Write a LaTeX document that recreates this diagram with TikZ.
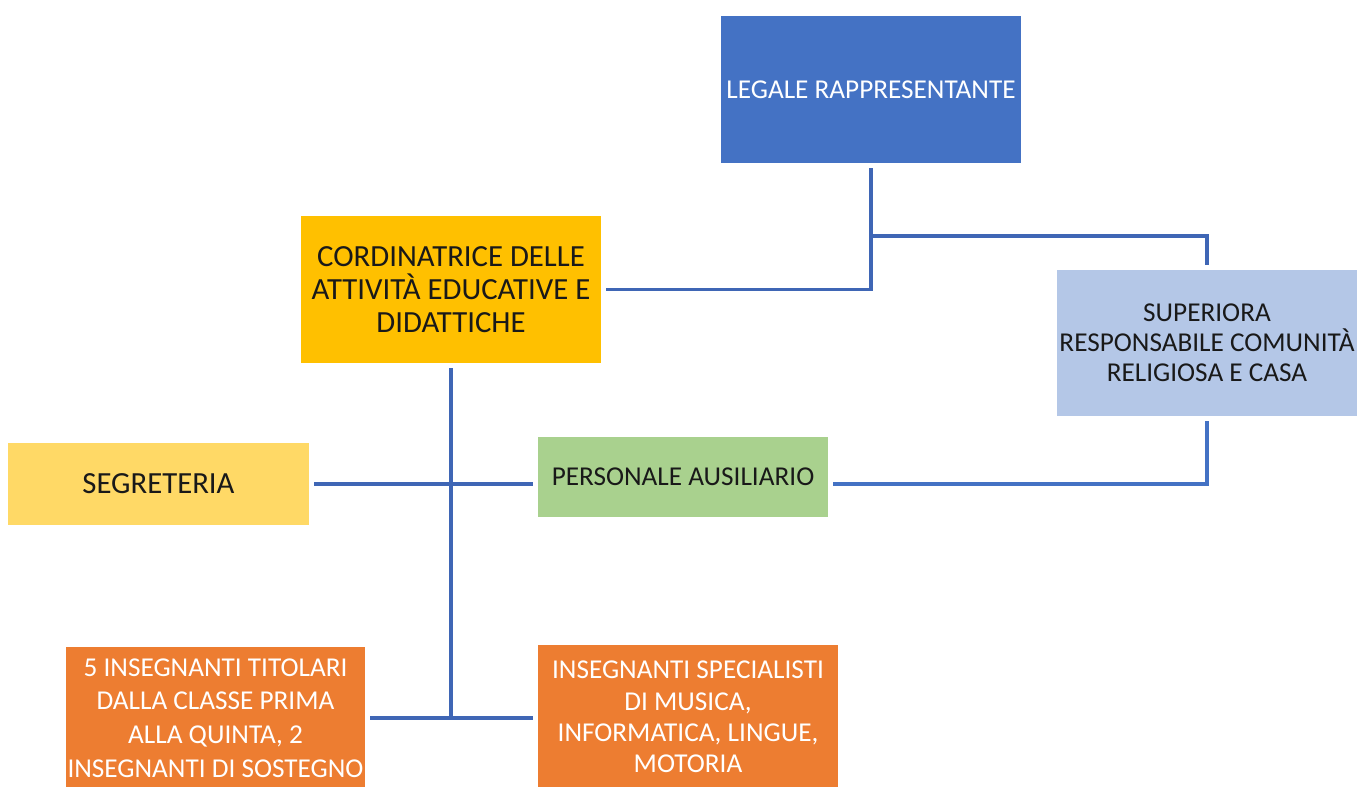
\documentclass[tikz,border=0pt]{standalone}
\usepackage{fontspec}
\setmainfont{Carlito}
\usepackage{tikz}
\usetikzlibrary{positioning, calc}
\definecolor{legaleblue}{HTML}{4472C4}
\definecolor{cordyellow}{HTML}{FFC000}
\definecolor{superblue}{HTML}{B4C7E7}
\definecolor{segryellow}{HTML}{FFD966}
\definecolor{persgreen}{HTML}{A9D18E}
\definecolor{teachorange}{HTML}{ED7D31}
\definecolor{linkblue}{HTML}{3F66B5}
\tikzset{unit/.style={rectangle,fill=#1,align=center,inner sep=0pt,outer sep=3pt,text=black!90},
         bigunit/.style={unit=#1,minimum width=6cm,minimum height=2.94cm},
         smallunit/.style={unit=#1,minimum height=1.62cm},
         txt/.style={font=\fontsize{15.5}{18.5}\selectfont},
         bigtxt/.style={font=\fontsize{17.5}{18.6}\selectfont},
         link/.style={draw=linkblue,line width=2pt},
         thicklink/.style={draw=legaleblue,line width=2.6pt}}
\begin{document}
\begin{tikzpicture}[x=0.02cm,y=-0.02cm]
    \useasboundingbox (0,0) rectangle (1359,787);
    \node (legale) [bigunit=legaleblue, txt, text=white] at (871,89.5) {LEGALE RAPPRESENTANTE};
    \node (cord) [bigunit=cordyellow, bigtxt] at (451,289.5) {CORDINATRICE DELLE\\ATTIVITÀ EDUCATIVE E\\DIDATTICHE};
    \node (super) [bigunit=superblue, font=\fontsize{15.5}{17.2}\selectfont, minimum height=2.92cm] at (1207,343) {SUPERIORA\\RESPONSABILE COMUNITÀ\\RELIGIOSA E CASA};
    \node (segr) [smallunit=segryellow, bigtxt, minimum width=6.02cm, minimum height=1.64cm] at (158.5,484) {SEGRETERIA};
    \node (pers) [smallunit=persgreen, txt, minimum width=5.8cm, minimum height=1.6cm] at (683,477) {PERSONALE AUSILIARIO};
    \node (titolari) [bigunit=teachorange, font=\fontsize{15.5}{19.2}\selectfont, text=white, minimum width=5.98cm, minimum height=2.84cm] at (215.5,718) {5 INSEGNANTI TITOLARI\\DALLA CLASSE PRIMA\\ALLA QUINTA, 2\\INSEGNANTI DI SOSTEGNO};
    \node (special) [bigunit=teachorange, font=\fontsize{15.5}{17.8}\selectfont, text=white, minimum height=2.88cm] at (688,717) {INSEGNANTI SPECIALISTI\\DI MUSICA,\\INFORMATICA, LINGUE,\\MOTORIA};
    % legale rappresentante
    \coordinate (fork) at ($(legale.south)+(0,68)$);
    \draw[link] (legale.south) |- (cord.east);
    \draw[link] (fork) -| (super.north);
    % coordinatrice
    \coordinate (trunk) at (cord.south |- titolari.east);
    \draw[link] (cord.south) -- (trunk);
    \draw[link] (segr.east) -- (segr.east -| pers.west);
    \draw[link] (titolari.east) -- (titolari.east -| special.west);
    % superiora
    \draw[thicklink] (super.south) |- (pers.east |- segr.east);
\end{tikzpicture}
\end{document}
